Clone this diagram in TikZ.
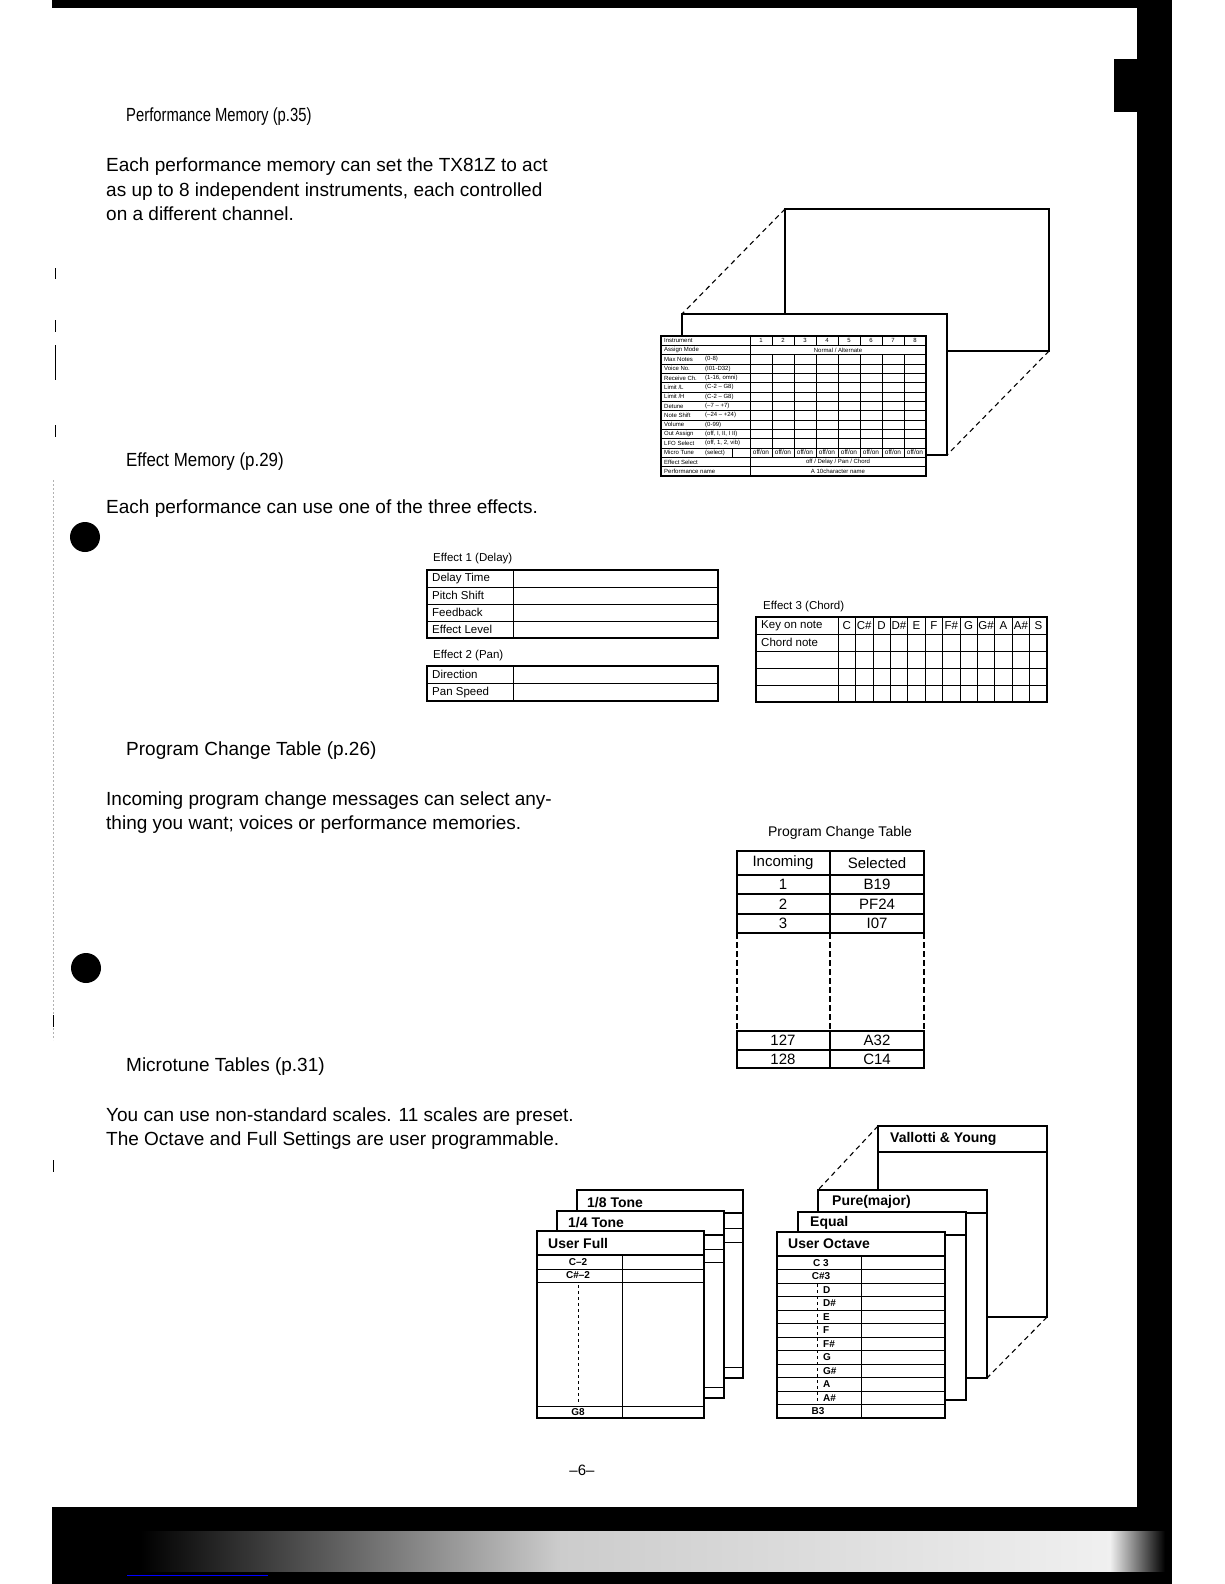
\documentclass[tikz,border=0pt]{standalone}
\usepackage{fontspec}
\setmainfont{Liberation Sans}
\newcommand\fsz[1]{\fontsize{#1}{#1}\selectfont}
\begin{document}
\begin{tikzpicture}[x=1pt,y=-1pt,
  txt/.style={inner sep=0pt, anchor=base west, font=\fsz{19}},
  box/.style={draw, line width=1.8pt, fill=white, inner sep=0pt, outer sep=0pt, anchor=north west},
  dashline/.style={line width=1.1pt, dash pattern=on 5pt off 4pt},
  pml/.style={inner sep=0pt, anchor=west, font=\fsz{6}},
  pmc/.style={inner sep=0pt, font=\fsz{6}},
  efl/.style={inner sep=0pt, anchor=west, font=\fsz{11.5}},
  pcn/.style={inner sep=0pt, font=\fsz{15}},
  mtt/.style={inner sep=0pt, anchor=west, font=\bfseries\fsz{14}},
  mtl/.style={inner sep=0pt, font=\bfseries\fsz{10}},
  rule/.style={line width=0.7pt}
]
\useasboundingbox (0,0) rectangle (1224,1584);
\fill[white] (0,0) rectangle (1224,1584);

% ---------- page decorations ----------
\fill[black] (52,0) rectangle (1172,8);
\fill[black] (1137,0) rectangle (1172,1584);
\fill[black] (1114,59) rectangle (1140,112);
\fill[black] (52,1507) rectangle (1172,1584);
\shade[left color=black, right color=gray!40] (140,1531) rectangle (560,1571);
\shade[left color=gray!40, right color=gray!12] (560,1531) rectangle (1110,1571);
\shade[left color=gray!12, right color=black] (1110,1531) rectangle (1165,1571);
\draw[blue, line width=0.8pt] (127,1575) -- (268,1575);
\draw[gray!60, line width=0.6pt, dash pattern=on 2pt off 2pt] (53,480) -- (53,1040);
\draw[black, line width=0.8pt] (55,268) -- (55,279);
\draw[black, line width=0.8pt] (55,320) -- (55,332);
\draw[black, line width=0.8pt] (55,345) -- (55,380);
\draw[black, line width=0.8pt] (55,425) -- (55,437);
\draw[black, line width=0.8pt] (53,1015) -- (53,1027);
\draw[black, line width=0.8pt] (53,1160) -- (53,1172);
\fill[black] (85,537) circle (15);
\fill[black] (86,968) circle (15);

% ---------- texts ----------
\node[txt] (h1) at (126,122) {\scalebox{0.78}[1]{Performance Memory (p.35)}};
\node[txt] (p1a) at (106,171) {Each performance memory can set the TX81Z to act};
\node[txt] (p1b) at (106,196) {as up to 8 independent instruments, each controlled};
\node[txt] (p1c) at (106,220) {on a different channel.};
\node[txt] (h2) at (126,466) {\scalebox{0.89}[1]{Effect Memory (p.29)}};
\node[txt] (p2a) at (106,513) {Each performance can use one of the three effects.};
\node[txt] (h3) at (126,755) {Program Change Table (p.26)};
\node[txt] (p3a) at (106,805) {Incoming program change messages can select any-};
\node[txt] (p3b) at (106,829) {thing you want; voices or performance memories.};
\node[txt] (h4) at (126,1071) {Microtune Tables (p.31)};
\node[txt] (p4a) at (106,1121) {You can use non-standard scales. 11 scales are preset.};
\node[txt] (p4b) at (106,1145) {The Octave and Full Settings are user programmable.};
\node[inner sep=0pt, font=\fsz{15}] (pgno) at (582,1470) {–6–};

% ---------- performance memory ----------
\node[box, minimum width=264pt, minimum height=142pt] (pmback) at (785,209) {};
\node[box, minimum width=265pt, minimum height=141pt] (pmmid) at (682,314) {};
\draw[dashline] (pmback.north west) -- (pmmid.north west);
\draw[dashline] (pmback.south east) -- (pmmid.south east);
\node[box, line width=1.5pt, minimum width=265pt, minimum height=140pt] (pmtab) at (661,336) {};
\foreach \i in {1,...,14} \draw[rule] (661,{336+\i*9.3333}) -- (926,{336+\i*9.3333});
\draw[rule] (750,336) -- (750,476);
\foreach \k in {1,...,7} {
  \draw[rule] ({750+22*\k},336) -- ({750+22*\k},345.33);
  \draw[rule] ({750+22*\k},354.67) -- ({750+22*\k},457.33);
}
\draw[rule] (732,448) -- (732,457.33);
\foreach \i/\a/\b in {0/Instrument/,1/Assign Mode/,2/Max Notes/(0-8),3/Voice No./(I01-D32),
  4/Receive Ch./{(1-16, omni)},5/{Limit /L}/{(C-2 – G8)},6/{Limit /H}/{(C-2 – G8)},7/Detune/{(–7 – +7)},
  8/Note Shift/{(–24 – +24)},9/Volume/(0-99),10/Out Assign/{(off, I, II, I II)},
  11/LFO Select/{(off, 1, 2, vib)},12/Micro Tune/(select),13/Effect Select/,14/Performance name/} {
  \node[pml] (pmla\i) at (664,{336+(\i+0.5)*9.3333}) {\a};
  \node[pml] (pmlb\i) at (705,{336+(\i+0.5)*9.3333}) {\b};
}
\foreach \k in {1,...,8} {
  \node[pmc] (pmn\k) at ({750+(\k-0.5)*22},340.67) {\k};
  \node[pmc, font=\fsz{6.5}] (pmo\k) at ({750+(\k-0.5)*22},452.67) {off/on};
}
\node[pmc] (pmv1) at (838,350) {Normal / Alternate};
\node[pmc] (pmv13) at (838,462) {off / Delay / Pan / Chord};
\node[pmc] (pmv14) at (838,471.33) {A 10character name};

% ---------- effect 1 & 2 ----------
\node[efl] (e1t) at (433,559) {Effect 1 (Delay)};
\node[box, line width=1.5pt, minimum width=291pt, minimum height=68pt] (e1) at (427,570) {};
\foreach \i in {1,2,3} \draw[rule] (427,{570+17*\i}) -- (718,{570+17*\i});
\draw[rule] (513,570) -- (513,638);
\foreach \i/\a in {0/Delay Time,1/Pitch Shift,2/Feedback,3/Effect Level}
  \node[efl] (e1l\i) at (432,{570+17*\i+8.5}) {\a};
\node[efl] (e2t) at (433,656) {Effect 2 (Pan)};
\node[box, line width=1.5pt, minimum width=291pt, minimum height=35pt] (e2) at (427,666) {};
\draw[rule] (427,683.5) -- (718,683.5);
\draw[rule] (513,666) -- (513,701);
\node[efl] (e2l0) at (432,674.75) {Direction};
\node[efl] (e2l1) at (432,692.25) {Pan Speed};

% ---------- effect 3 ----------
\node[efl] (e3t) at (763,607) {Effect 3 (Chord)};
\node[box, line width=1.5pt, minimum width=291pt, minimum height=85pt] (e3) at (756,617) {};
\foreach \i in {1,...,4} \draw[rule] (756,{617+17*\i}) -- (1047,{617+17*\i});
\foreach \k in {0,...,11} \draw[rule] ({838+17.42*\k},617) -- ({838+17.42*\k},702);
\node[efl] (e3l0) at (761,625.5) {Key on note};
\node[efl] (e3l1) at (761,642.5) {Chord note};
\foreach \n [count=\k] in {C,C\#,D,D\#,E,F,F\#,G,G\#,A,A\#,S}
  \node[inner sep=0pt, font=\fsz{11.5}] (e3n\k) at ({838+17.42*\k-8.71},625.5) {\n};

% ---------- program change table ----------
\node[inner sep=0pt, font=\fsz{14}] (pct) at (840,833) {Program Change Table};
\foreach \t/\b/\l/\r [count=\i] in {851/875/Incoming/Selected,875/894/1/B19,894/914/2/PF24,914/933/3/I07,1031/1050/127/A32,1050/1068/128/C14} {
  \draw[line width=1.7pt] (737,\t) rectangle (924,\b);
  \draw[line width=1.3pt] (830,\t) -- (830,\b);
  \node[pcn] (pcl\i) at (783,{(\t+\b)/2}) {\l};
  \node[pcn] (pcr\i) at (877,{(\t+\b)/2}) {\r};
}
\foreach \x in {737,830,924} \draw[line width=1.7pt, dash pattern=on 6pt off 3pt] (\x,933) -- (\x,1031);

% ---------- microtune left stack ----------
\node[box, minimum width=166pt, minimum height=188pt] (m8) at (577,1190) {};
\foreach \y in {1228,1242,1367} \draw[rule] (577,\y) -- (743,\y);
\draw[line width=1.2pt] (577,1213) -- (743,1213);
\node[mtt] (m8t) at (587,1203) {1/8 Tone};
\node[box, minimum width=167pt, minimum height=187pt] (m4) at (557,1211) {};
\foreach \y in {1249,1262,1387} \draw[rule] (557,\y) -- (724,\y);
\draw[line width=1.2pt] (557,1235) -- (724,1235);
\node[mtt] (m4t) at (568,1223) {1/4 Tone};
\node[box, minimum width=167pt, minimum height=187pt] (mf) at (537,1231) {};
\draw[line width=1.2pt] (537,1255) -- (704,1255);
\foreach \y in {1269,1282,1406} \draw[rule] (537,\y) -- (704,\y);
\draw[rule] (622,1255) -- (622,1418);
\node[mtt] (mft) at (548,1243) {User Full};
\node[mtl] (mfl1) at (578,1262) {C–2};
\node[mtl] (mfl2) at (578,1275.5) {C\#–2};
\node[mtl] (mfl3) at (578,1412) {G8};
\draw[line width=0.6pt, dash pattern=on 3pt off 3pt] (mfl2.south) ++(0,6) coordinate (mfd1) -- (578,1402) coordinate (mfd2);

% ---------- microtune right stack ----------
\node[box, minimum width=169pt, minimum height=191pt] (mv) at (878,1126) {};
\draw[line width=1.2pt] (878,1152) -- (1047,1152);
\node[mtt] (mvt) at (890,1139) {Vallotti \& Young};
\node[box, minimum width=169pt, minimum height=188pt] (mp) at (818,1190) {};
\draw[line width=1.2pt] (818,1213) -- (987,1213);
\node[mtt] (mpt) at (832,1202) {Pure(major)};
\draw[dashline] (mv.north west) -- (mp.north west);
\draw[dashline] (mv.south east) -- (mp.south east);
\node[box, minimum width=168pt, minimum height=188pt] (me) at (798,1212) {};
\draw[line width=1.2pt] (798,1235) -- (966,1235);
\node[mtt] (met) at (810,1223) {Equal};
\node[box, minimum width=168pt, minimum height=186pt] (mo) at (777,1232) {};
\draw[line width=1.2pt] (777,1256) -- (945,1256);
\node[mtt] (mot) at (788,1244) {User Octave};
\foreach \i in {1,...,11} \draw[rule] (777,{1256+13.5*\i}) -- (945,{1256+13.5*\i});
\draw[rule] (861,1256) -- (861,1418);
\node[mtl] (mol0) at (821,{1256+6.75}) {C 3};
\node[mtl] (mol1) at (821,{1256+13.5+6.75}) {C\#3};
\foreach \n [count=\k from 2] in {D,D\#,E,F,F\#,G,G\#,A,A\#}
  \node[mtl, anchor=west] (mol\k) at (823,{1256+13.5*\k+6.75}) {\n};
\node[mtl] (mol11) at (818,{1256+13.5*11+6.75}) {B3};
\draw[line width=0.6pt, dash pattern=on 3pt off 3pt] (817,1284) coordinate (mod1) -- (817,1404) coordinate (mod2);
\end{tikzpicture}
\end{document}
